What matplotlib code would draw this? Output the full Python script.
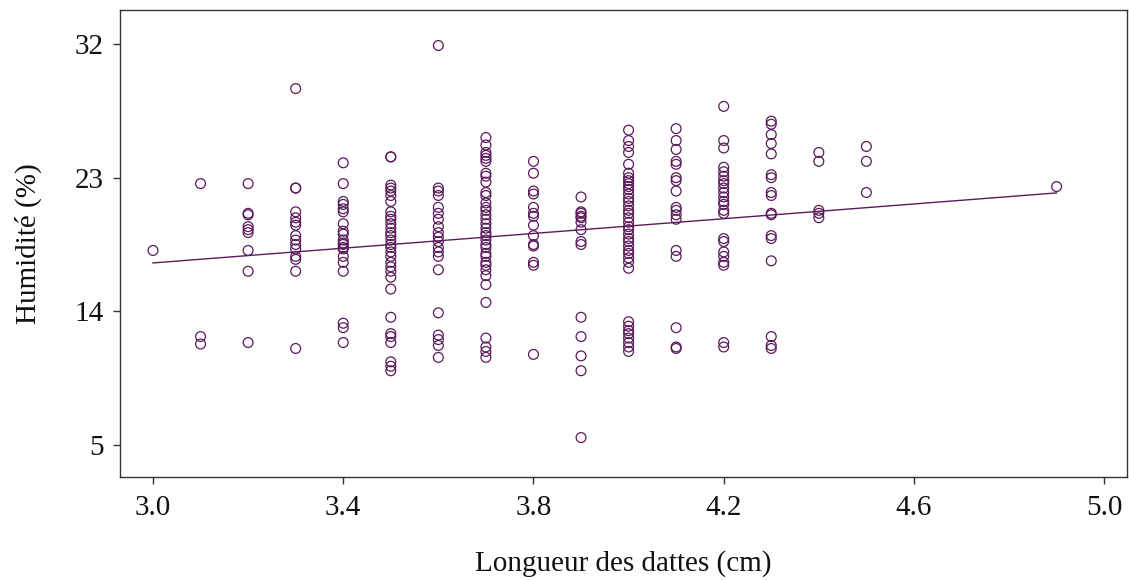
import numpy as np
import matplotlib
matplotlib.use("Agg")
import matplotlib.pyplot as plt

# Date length (cm) groups and humidity (%) readings per group
x_groups = [3.0, 3.1, 3.2, 3.3, 3.4, 3.5, 3.6, 3.7, 3.8, 3.9, 4.0, 4.1, 4.2, 4.3, 4.4, 4.5, 4.9]
hum_30 = [18.1]
hum_31 = [22.6, 12.3, 11.8]
hum_32 = [22.6, 20.6, 20.5, 19.7, 19.5, 19.3, 18.1, 16.7, 11.9]
hum_33 = [29.0, 22.3, 22.3, 20.7, 20.3, 20.0, 19.8, 19.1, 18.8, 18.5, 18.2, 17.7, 17.5, 16.7, 11.5]
hum_34 = [24.0, 22.6, 21.4, 21.2, 20.9, 20.7, 19.9, 19.4, 19.2, 18.8, 18.6, 18.5, 18.3,
          18.2, 17.7, 17.3, 16.7, 13.2, 12.9, 11.9]
hum_35 = [24.4, 24.4, 22.5, 22.3, 22.1, 21.8, 21.4, 20.7, 20.4, 20.2, 19.9, 19.6, 19.3,
          19.1, 18.8, 18.5, 18.3, 18.0, 17.7, 17.3, 17.0, 16.7, 16.3, 15.5, 13.6, 12.5,
          12.3, 11.9, 10.6, 10.3, 10.0]
hum_36 = [31.9, 22.3, 22.1, 21.8, 21.0, 20.6, 20.2, 19.7, 19.3, 19.0, 18.7, 18.3, 18.0,
          17.7, 16.8, 13.9, 12.4, 12.1, 11.7, 10.9]
hum_37 = [25.7, 25.2, 24.7, 24.5, 24.3, 24.1, 23.3, 23.1, 22.7, 22.0, 21.8, 21.3, 21.0,
          20.8, 20.5, 20.2, 19.9, 19.6, 19.3, 19.1, 18.8, 18.5, 18.3, 17.9, 17.7, 17.3,
          17.1, 16.8, 16.4, 15.8, 14.6, 12.2, 11.6, 11.3, 10.9]
hum_38 = [24.1, 23.3, 22.1, 21.9, 21.0, 20.6, 20.4, 19.8, 19.1, 18.5, 18.4, 17.3, 17.1, 11.1]
hum_39 = [21.7, 20.7, 20.6, 20.4, 20.3, 20.0, 19.5, 18.7, 18.5, 13.6, 12.3, 11.0, 10.0, 5.5]
hum_40 = [26.2, 25.5, 25.1, 24.7, 23.9, 23.3, 23.0, 22.8, 22.6, 22.4, 22.2, 21.9, 21.6,
          21.4, 21.1, 20.8, 20.6, 20.3, 20.0, 19.7, 19.5, 19.2, 18.9, 18.7, 18.4, 18.1,
          17.9, 17.6, 17.3, 16.9, 13.3, 13.0, 12.7, 12.5, 12.2, 11.9, 11.6, 11.3]
hum_41 = [26.3, 25.5, 24.9, 24.1, 23.9, 23.0, 22.8, 22.1, 21.0, 20.8, 20.5, 20.2, 18.1,
          17.7, 12.9, 11.6, 11.5]
hum_42 = [27.8, 25.5, 25.0, 23.7, 23.4, 23.1, 22.8, 22.6, 22.3, 22.0, 21.7, 21.4, 21.2,
          20.8, 20.6, 18.9, 18.7, 18.0, 17.7, 17.3, 17.1, 11.9, 11.6]
hum_43 = [26.8, 26.6, 25.9, 25.3, 24.6, 23.2, 23.0, 22.0, 21.8, 20.6, 20.5, 19.1, 18.9,
          17.4, 12.3, 11.7, 11.5]
hum_44 = [24.7, 24.1, 20.8, 20.6, 20.3]
hum_45 = [25.1, 24.1, 22.0]
hum_49 = [22.4]

groups = [hum_30, hum_31, hum_32, hum_33, hum_34, hum_35, hum_36, hum_37, hum_38,
          hum_39, hum_40, hum_41, hum_42, hum_43, hum_44, hum_45, hum_49]

x_ticks = [3.0, 3.4, 3.8, 4.2, 4.6, 5.0]
y_ticks = [5, 14, 23, 32]

xs = np.concatenate([[xv] * len(g) for xv, g in zip(x_groups, groups)])
ys = np.concatenate(groups)

slope, intercept = np.polyfit(xs, ys, 1)

plt.rcParams['font.family'] = ['Liberation Serif', 'DejaVu Serif']

fig = plt.figure(figsize=(11.29, 5.80), dpi=100)
ax = fig.add_axes([120 / 1129, 1 - 477 / 580, (1127 - 120) / 1129, (477 - 10) / 580])

col = '#5a1a5a'
ax.scatter(xs, ys, s=50, facecolors='none', edgecolors=col, linewidths=0.9, zorder=3)
xl = np.array([min(x_groups), max(x_groups)])
ax.plot(xl, intercept + slope * xl, color=col, lw=1.0, zorder=2)

ax.set_xlim(2.9306, 5.048)
ax.set_ylim(2.845, 34.29)
ax.set_xticks(x_ticks)
ax.set_xticklabels([f"{v:.1f}" for v in x_ticks])
ax.set_yticks(y_ticks)
ax.set_yticklabels([str(v) for v in y_ticks])

for s in ax.spines.values():
    s.set_color('#333333')
    s.set_linewidth(1.0)
ax.tick_params(direction='out', length=5, width=1, color='#333333',
               labelsize=21, pad=7, labelcolor='#111111')
ax.tick_params(axis='x', pad=8)

ax.set_xlabel('Longueur des dattes (cm)', fontsize=21, labelpad=21, color='#111111')
ax.set_ylabel('Humidité (%)', fontsize=21, labelpad=23, color='#111111')

fig.savefig('out.png', dpi=100)
